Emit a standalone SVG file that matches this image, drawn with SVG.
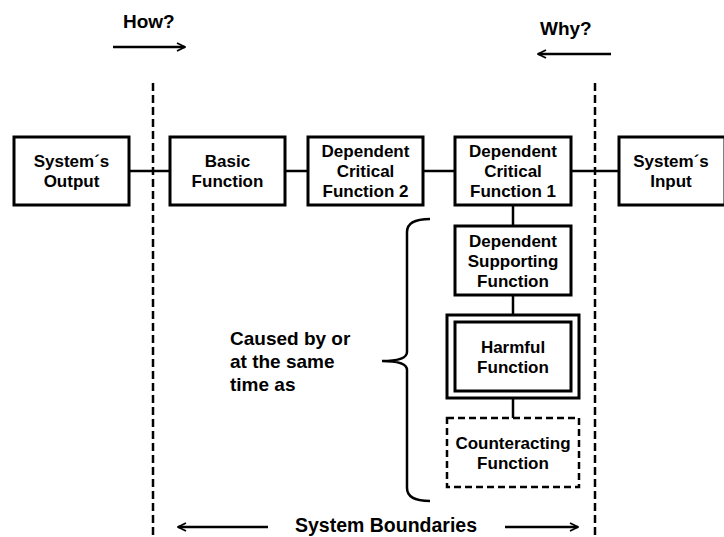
<svg xmlns="http://www.w3.org/2000/svg" width="724" height="537" viewBox="0 0 724 537">
<style>
.box{fill:#fff;stroke:#000;stroke-width:3}
.dbox{fill:#fff;stroke:#000;stroke-width:2.5;stroke-dasharray:7,4}
.t{font-family:"Liberation Sans",Arial,sans-serif;font-weight:bold;font-size:17px;text-anchor:middle;fill:#000}
.big{font-family:"Liberation Sans",Arial,sans-serif;font-weight:bold;font-size:19px;fill:#000}
.ln{stroke:#000;stroke-width:2.5;fill:none}
.bnd{stroke:#000;stroke-width:2.5;stroke-dasharray:8,4;fill:none}
</style>
<defs>
<marker id="ah" viewBox="0 0 10 10" refX="9" refY="5" markerWidth="10" markerHeight="10" markerUnits="userSpaceOnUse" orient="auto">
<path d="M1,1 L9,5 L1,9" fill="none" stroke="#000" stroke-width="1.8"/>
</marker>
</defs>
<rect width="724" height="537" fill="#fff"/>
<g id="boundaries">
<line class="bnd" x1="153" y1="83" x2="153" y2="537"/>
<line class="bnd" x1="595" y1="83" x2="595" y2="537"/>
</g>
<g id="connectors">
<line class="ln" x1="129" y1="171" x2="170" y2="171"/>
<line class="ln" x1="285" y1="171" x2="308" y2="171"/>
<line class="ln" x1="423" y1="171" x2="455" y2="171"/>
<line class="ln" x1="571" y1="171" x2="619" y2="171"/>
<line class="ln" x1="513" y1="205" x2="513" y2="226"/>
<line class="ln" x1="513" y1="295" x2="513" y2="315"/>
<line class="ln" x1="513" y1="398" x2="513" y2="418"/>
<line class="ln" x1="113" y1="47" x2="185" y2="47" marker-end="url(#ah)"/>
<line class="ln" x1="611" y1="54" x2="538" y2="54" marker-end="url(#ah)"/>
<line class="ln" x1="268" y1="527" x2="178" y2="527" marker-end="url(#ah)"/>
<line class="ln" x1="505" y1="527" x2="578" y2="527" marker-end="url(#ah)"/>
</g>
<g id="output">
<rect class="box" x="14" y="137" width="115" height="68"/>
<text class="t" x="71.5" y="167">System´s<tspan x="71.5" dy="20">Output</tspan></text>
</g>
<g id="basic">
<rect class="box" x="170" y="137" width="115" height="68"/>
<text class="t" x="227.5" y="167">Basic<tspan x="227.5" dy="20">Function</tspan></text>
</g>
<g id="dcf2">
<rect class="box" x="308" y="137" width="115" height="68"/>
<text class="t" x="365.5" y="157">Dependent<tspan x="365.5" dy="20">Critical</tspan><tspan x="365.5" dy="20">Function 2</tspan></text>
</g>
<g id="dcf1">
<rect class="box" x="455" y="137" width="116" height="68"/>
<text class="t" x="513" y="157">Dependent<tspan x="513" dy="20">Critical</tspan><tspan x="513" dy="20">Function 1</tspan></text>
</g>
<g id="input">
<rect class="box" x="619" y="137" width="106" height="68"/>
<text class="t" x="671" y="167">System´s<tspan x="671" dy="20">Input</tspan></text>
</g>
<g id="dsf">
<rect class="box" x="455" y="226" width="116" height="69"/>
<text class="t" x="513" y="247">Dependent<tspan x="513" dy="20">Supporting</tspan><tspan x="513" dy="20">Function</tspan></text>
</g>
<g id="harmful">
<rect class="box" x="447" y="315" width="132" height="83"/>
<rect class="box" x="455" y="322" width="116" height="69"/>
<text class="t" x="513" y="353">Harmful<tspan x="513" dy="20">Function</tspan></text>
</g>
<g id="counteracting">
<rect class="dbox" x="447" y="418" width="132" height="69"/>
<text class="t" x="513" y="449">Counteracting<tspan x="513" dy="20">Function</tspan></text>
</g>
<g id="brace">
<path class="ln" d="M430,219 Q407,219 407,232 L407,352 Q407,361 382,361 Q407,361 407,370 L407,488 Q407,501 430,501"/>
</g>
<g id="labels">
<text class="big" x="123" y="28">How?</text>
<text class="big" x="540" y="35">Why?</text>
<text class="big" x="230" y="345">Caused by or<tspan x="230" dy="23">at the same</tspan><tspan x="230" dy="23">time as</tspan></text>
<text class="big" x="386" y="532" text-anchor="middle" style="font-size:19.5px">System Boundaries</text>
</g>
</svg>
